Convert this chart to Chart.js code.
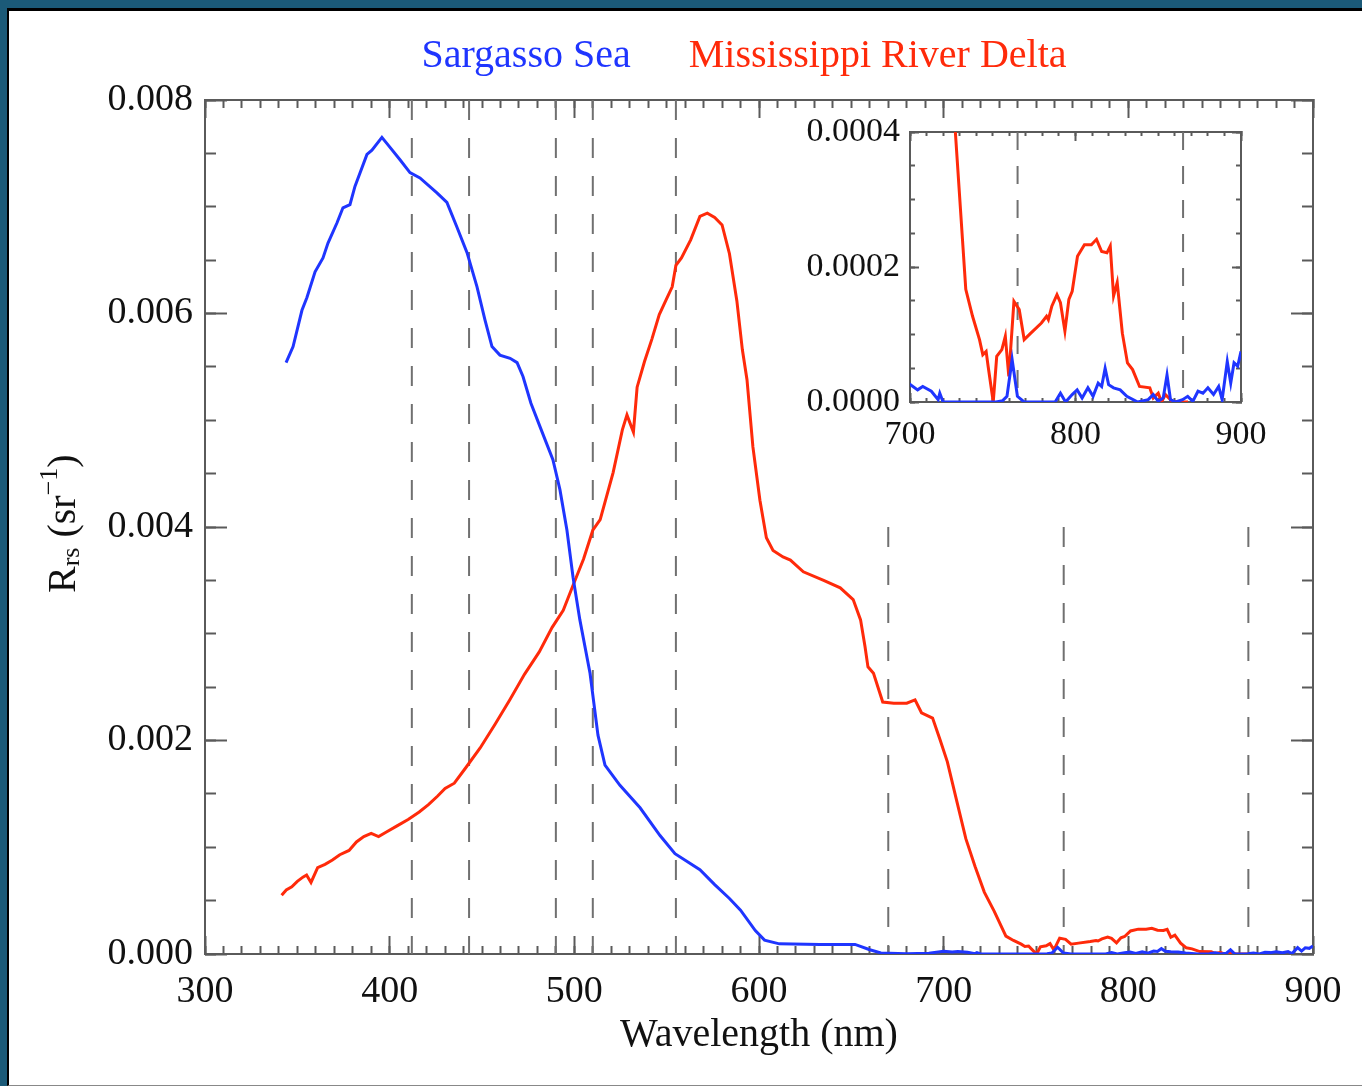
<!DOCTYPE html>
<html>
<head>
<meta charset="utf-8">
<script src="https://cdn.jsdelivr.net/npm/chart.js@4.4.1/dist/chart.umd.min.js"></script>
<style>
  html, body { margin: 0; padding: 0; background: #1b5a78; }
  body { width: 1362px; height: 1086px; position: relative; overflow: hidden; }
  #panel { position: absolute; left: 7px; top: 8px; width: 1355px; height: 1078px; box-sizing: border-box;
           background: #fff; border-left: 2px solid #000; border-top: 3px solid #000; border-bottom: 1px solid #888; }
  #main { position: absolute; left: 0; top: 0; }
  #inset { position: absolute; left: 770px; top: 90px; }
</style>
</head>
<body>
<div id="panel"></div>
<canvas id="main" width="1362" height="1086"></canvas>
<canvas id="inset" width="530" height="380"></canvas>
<script>
// --- Rrs spectra (nm, sr^-1) ---
const sargNm = [343.9, 347.7, 352.5, 355.2, 359.6, 363.9, 366.6, 371.5, 374.7, 378.5, 381.2, 387.7, 390.4, 395.8,
  399.1, 405.6, 411, 416.4, 425.6, 431, 436.4, 441.9, 447.3, 451.6, 455.4, 459.7, 465.2, 469, 472.2, 476.5,
  481.4, 488.4, 492.2, 496, 499.3, 503, 508.5, 512.8, 516.6, 524.7, 535.6, 546.4, 554.5, 568, 576, 584, 590,
  598, 603, 611, 633, 652, 660, 666, 680, 692,
  700, 704.6, 707.7, 712.9, 717, 718, 720, 752, 756, 758.6, 761.7, 764.9, 769, 787.7, 790.9, 794, 798, 801,
  804, 807.5, 810.6, 813.7, 815.8, 817.9, 820, 823, 827, 831, 837.6, 843.9, 847, 850, 853, 855.3, 857.4,
  860.5, 864.7, 867.8, 870.9, 874, 877, 880, 883.4, 886.5, 888.6, 891.7, 893.8, 895.8, 898, 900];
const sargRrs = [0.00554, 0.00569, 0.00603, 0.00615, 0.00639, 0.00652, 0.00666, 0.00685, 0.00699, 0.00702, 0.00719,
  0.00749, 0.00753, 0.00765, 0.00758, 0.00744, 0.00732, 0.00727, 0.00713, 0.00704, 0.00681, 0.00657, 0.00625,
  0.00594, 0.00569, 0.00561, 0.00558, 0.00554, 0.00541, 0.00516, 0.00494, 0.00463, 0.00435, 0.00397, 0.00353,
  0.00313, 0.00263, 0.00205, 0.00177, 0.00158, 0.00137, 0.00111, 0.00094, 0.00079, 0.00065, 0.00052, 0.00041,
  0.00022, 0.00013, 0.000095, 0.00009, 0.00009, 0.00004, 0.00001, 0.000003, 0.000008,
  0.000026, 0.000018, 0.000023, 0.000016, 0.0000035, 0.000013, 0, 0, 0.000002, 0.0000084, 0.000063, 0.0000084,
  0, 0, 0.000013, 0, 0.000011, 0.000018, 0.000006, 0.000021, 0.0000084, 0.000028, 0.000023, 0.00005, 0.0000257,
  0.000021, 0.000018, 0.0000084, 0, 0.0000035, 0.000011, 0.000001, 0.000006, 0.00004, 0.0000035, 0, 0.0000035,
  0.0000084, 0.000001, 0.000016, 0.000013, 0.000021, 0.000011, 0.000023, 0.0000035, 0.00006, 0.000028,
  0.000058, 0.000053, 0.000075];

const deltaNm = [341.5, 344, 347, 350, 353, 355, 357.4, 361, 365, 369, 373, 378, 382, 386, 390, 394, 398, 404, 410,
  416, 421, 426, 430, 435, 441, 449, 457, 465, 473, 481, 488, 494, 499, 505, 510, 514, 521, 526, 528.5, 530, 532,
  534, 538, 542, 546, 550, 553, 555, 558, 563, 568, 572, 576, 580, 584, 588, 591, 593.5, 596.7, 600.5, 604,
  607.6, 613, 617, 624, 635, 644, 651, 655, 657.4, 659, 662, 667, 673, 680, 684.5, 688, 694, 698, 702, 707,
  712, 717, 722, 727.4, 733.7, 737.8, 742, 744, 746, 747.2, 750.3, 752.4, 755.5, 757.6, 759.7, 762.8, 766, 769,
  773, 779.4, 782.5, 783.6, 785.7, 788.8, 790.9, 793.6, 796, 798, 801.2, 805.4, 809.6, 812.7, 815.8, 819, 821,
  823, 825.2, 828.3, 831.4, 834.5, 838.7, 844.9, 847, 850, 852, 854.3, 858.4, 862, 868];
const deltaRrs = [0.00055, 0.0006, 0.00063, 0.00068, 0.00072, 0.00074, 0.00067, 0.00081, 0.00084, 0.00088, 0.00093,
  0.00097, 0.00105, 0.0011, 0.00113, 0.0011, 0.00114, 0.0012, 0.00126, 0.00133, 0.0014, 0.00148, 0.00155, 0.0016,
  0.00174, 0.00193, 0.00215, 0.00238, 0.00262, 0.00283, 0.00306, 0.00322, 0.00344, 0.0037, 0.00397, 0.00407,
  0.00451, 0.00491, 0.00505, 0.00498, 0.00489, 0.00531, 0.00555, 0.00576, 0.00599, 0.00614, 0.00625, 0.00645,
  0.00652, 0.00669, 0.00691, 0.00694, 0.0069, 0.00683, 0.00656, 0.00612, 0.00566, 0.00538, 0.00475, 0.00425,
  0.0039, 0.00378, 0.00372, 0.00369, 0.00358, 0.0035, 0.00343, 0.00332, 0.00313, 0.00288, 0.00269, 0.00263,
  0.00236, 0.00235, 0.00235, 0.00238, 0.00226, 0.00221, 0.00201, 0.0018, 0.00144, 0.00108, 0.00082, 0.00058,
  0.0004, 0.000167, 0.000127, 0.0000925, 0.00007, 0.000075, 0.000053, 0, 0.0000677, 0.0000776, 0.0000974,
  0.000038, 0.000149, 0.000137, 0.0000925, 0.000102, 0.000117, 0.000127, 0.000122, 0.000142, 0.000159,
  0.000147, 0.000105, 0.000152, 0.000164, 0.000216, 0.000233, 0.000233, 0.000241, 0.000223, 0.000221,
  0.000231, 0.000157, 0.000177, 0.000102, 0.0000578, 0.000048, 0.000023, 0.000021, 0.000006, 0.000013, 0,
  0.000011, 0.000001, 0, 0];

// sensor band centres (dashed lines)
const visBands = [412, 443, 490, 510, 555];
const nirBands = [670, 765, 865];
const insetBands = [765, 865];

// axis ticks
const xMajor = [300, 400, 500, 600, 700, 800, 900];
const yMajor = [0, 0.002, 0.004, 0.006, 0.008];
const insetXMajor = [700, 800, 900];
const insetYMajor = [0, 0.0002, 0.0004];

const BLUE = '#1f35ff';
const RED = '#ff2a0a';
const AXIS = '#5a5a5a';
const BAND = '#707070';
const SERIF = "'Liberation Serif', 'Times New Roman', serif";

function series(nm, rrs) {
  return nm.map((x, i) => ({ x: x, y: rrs[i] }));
}

function curveSets() {
  return [
    { label: 'Sargasso Sea', data: series(sargNm, sargRrs), borderColor: BLUE, borderWidth: 3, pointRadius: 0, tension: 0 },
    { label: 'Mississippi River Delta', data: series(deltaNm, deltaRrs), borderColor: RED, borderWidth: 3, pointRadius: 0, tension: 0 }
  ];
}

function bandSet(nm, top, dash) {
  return { label: 'band', data: [{ x: nm, y: top }, { x: nm, y: 0 }], borderColor: BAND, borderWidth: 2,
           borderDash: dash, pointRadius: 0 };
}

// unlabeled tick-only axis (inward ticks, mirrored sides)
function tickAxis(pos, min, max, len, step, fixed) {
  return {
    type: 'linear', position: pos, min: min, max: max, weight: 0,
    afterBuildTicks: fixed ? (s => { s.ticks = fixed.map(v => ({ value: v })); }) : undefined,
    afterFit: s => { if (s.isHorizontal()) s.height = 0; else s.width = 0; },
    grid: { drawOnChartArea: false, tickLength: -len, tickWidth: 2, tickColor: AXIS },
    border: { display: pos === 'top' || pos === 'right', color: AXIS, width: 2 },
    ticks: { display: false, stepSize: step }
  };
}

// labeled axis (labels only, ticks come from tickAxis)
function labelAxis(pos, min, max, fixed, size, pad, fmt, fit) {
  return {
    type: 'linear', position: pos, min: min, max: max, weight: 1,
    afterBuildTicks: s => { s.ticks = fixed.map(v => ({ value: v })); },
    afterFit: fit,
    grid: { drawOnChartArea: false, drawTicks: false },
    border: { display: true, color: AXIS, width: 2 },
    ticks: { color: '#111', font: { family: SERIF, size: size }, padding: pad, maxRotation: 0, autoSkip: false,
             callback: fmt }
  };
}

// ---- main chart ----
const legendText = {
  id: 'legendText',
  afterDraw(chart) {
    const ctx = chart.ctx;
    const sets = chart.data.datasets.slice(0, 2);
    ctx.save();
    ctx.font = '40px ' + SERIF;
    ctx.textBaseline = 'middle';
    ctx.textAlign = 'left';
    const gap = 58;
    const widths = sets.map(d => ctx.measureText(d.label).width);
    let x = 744 - (widths[0] + widths[1] + gap) / 2;
    sets.forEach((d, i) => {
      ctx.fillStyle = d.borderColor;
      ctx.fillText(d.label, x, 56);
      x += widths[i] + gap;
    });
    ctx.restore();
  }
};

const yTitle = {
  id: 'yTitle',
  afterDraw(chart) {
    const ctx = chart.ctx;
    ctx.save();
    ctx.translate(75, 593);
    ctx.rotate(-Math.PI / 2);
    ctx.fillStyle = '#111';
    ctx.textBaseline = 'alphabetic';
    ctx.textAlign = 'left';
    const big = '40px ' + SERIF, small = '26px ' + SERIF;
    const parts = [['R', big, 0], ['rs', small, 4], [' (sr', big, 0], ['\u22121', small, -18], [')', big, 0]];
    let x = 0;
    parts.forEach(p => {
      ctx.font = p[1];
      ctx.fillText(p[0], x, p[2]);
      x += ctx.measureText(p[0]).width;
    });
    ctx.restore();
  }
};

const mainX = labelAxis('bottom', 300, 900, xMajor, 38, 15, v => String(v), s => { s.height = 132; });
mainX.title = { display: true, text: 'Wavelength (nm)', color: '#111', font: { family: SERIF, size: 40 },
                padding: { top: 0, bottom: 27 } };

new Chart(document.getElementById('main'), {
  type: 'line',
  data: {
    datasets: curveSets()
      .concat(visBands.map(b => bandSet(b, 0.008, [20, 18])))
      .concat(nirBands.map(b => bandSet(b, 0.004, [20, 18])))
  },
  options: {
    responsive: false,
    animation: false,
    events: [],
    layout: { padding: { top: 100, right: 49, bottom: 0, left: 0 } },
    plugins: { legend: { display: false }, tooltip: { enabled: false } },
    scales: {
      x: mainX,
      y: labelAxis('left', 0, 0.008, yMajor, 38, 12, v => v.toFixed(3), s => { s.width = 205; }),
      xTicks: tickAxis('bottom', 300, 900, 18, null, xMajor),
      xMinor: tickAxis('bottom', 300, 900, 8, 10),
      xTop: tickAxis('top', 300, 900, 18, null, xMajor),
      xTopMinor: tickAxis('top', 300, 900, 8, 10),
      yTicks: tickAxis('left', 0, 0.008, 22, null, yMajor),
      yMinor: tickAxis('left', 0, 0.008, 11, 0.0005),
      yRight: tickAxis('right', 0, 0.008, 22, null, yMajor),
      yRightMinor: tickAxis('right', 0, 0.008, 11, 0.0005)
    }
  },
  plugins: [legendText, yTitle]
});

// ---- inset (700-900 nm zoom) ----
new Chart(document.getElementById('inset'), {
  type: 'line',
  data: {
    datasets: curveSets().concat(insetBands.map(b => bandSet(b, 0.0004, [18, 16])))
  },
  options: {
    responsive: false,
    animation: false,
    events: [],
    layout: { padding: { top: 42, right: 59, bottom: 0, left: 0 } },
    plugins: { legend: { display: false }, tooltip: { enabled: false } },
    scales: {
      x: labelAxis('bottom', 700, 900, insetXMajor, 34, 13, v => String(v), s => { s.height = 68; }),
      y: labelAxis('left', 0, 0.0004, insetYMajor, 34, 10, v => v.toFixed(4), s => { s.width = 140; }),
      xTicks: tickAxis('bottom', 700, 900, 9, null, insetXMajor),
      xMinor: tickAxis('bottom', 700, 900, 4, 10),
      xTop: tickAxis('top', 700, 900, 9, null, insetXMajor),
      xTopMinor: tickAxis('top', 700, 900, 4, 10),
      yTicks: tickAxis('left', 0, 0.0004, 9, null, insetYMajor),
      yMinor: tickAxis('left', 0, 0.0004, 5, 0.00005),
      yRight: tickAxis('right', 0, 0.0004, 9, null, insetYMajor),
      yRightMinor: tickAxis('right', 0, 0.0004, 5, 0.00005)
    }
  }
});
</script>
</body>
</html>
